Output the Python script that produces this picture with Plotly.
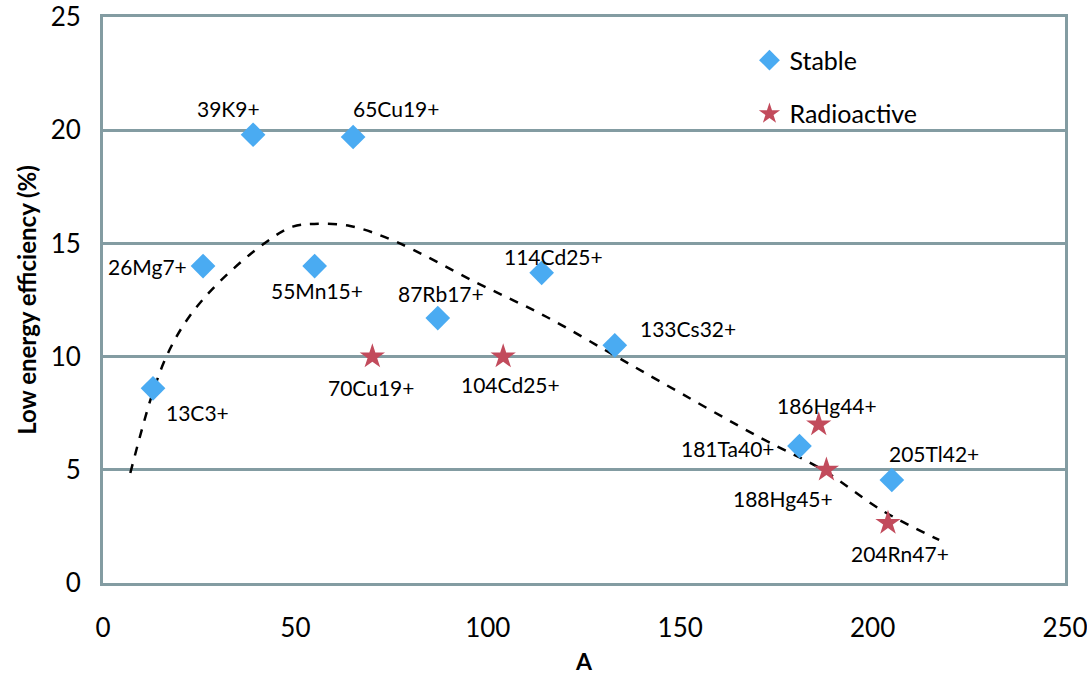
import plotly.graph_objects as go

# Stable isotopes
stable_A = [13, 26, 39, 55, 65, 87, 114, 133, 181, 205]
stable_eff = [8.6, 14.0, 19.8, 14.0, 19.7, 11.7, 13.7, 10.5, 6.05, 4.55]
stable_labels = ["13C3+", "26Mg7+", "39K9+", "55Mn15+", "65Cu19+", "87Rb17+",
                 "114Cd25+", "133Cs32+", "181Ta40+", "205Tl42+"]

# Radioactive isotopes
radio_A = [70, 104, 186, 188, 204]
radio_eff = [10.0, 10.0, 7.0, 5.0, 2.65]
radio_labels = ["70Cu19+", "104Cd25+", "186Hg44+", "188Hg45+", "204Rn47+"]

# Trend (dashed curve)
trend_A = [7.1, 13.1, 17.3, 22.4, 29.9, 41.9, 49.3, 54.9, 64.2, 76.2, 96.7,
           115.2, 132.0, 144.8, 171.0, 187.0, 202.5, 217.3]
trend_eff = [4.86, 8.5, 10.3, 11.76, 13.24, 15.0, 15.74, 15.86, 15.77, 15.07,
             13.3, 11.76, 10.14, 8.9, 6.4, 5.0, 3.2, 1.9]

x_ticks = [0, 50, 100, 150, 200, 250]
y_ticks = [0, 5, 10, 15, 20, 25]

# label placement: (xanchor, xshift, yshift)
stable_pos = {
    "13C3+": ("left", 11, -24),
    "26Mg7+": ("right", -14, 0),
    "39K9+": ("center", -25, 26),
    "55Mn15+": ("center", 2, -24),
    "65Cu19+": ("left", -2, 28),
    "87Rb17+": ("center", 3, 25),
    "114Cd25+": ("center", 12, 16),
    "133Cs32+": ("left", 23, 17),
    "181Ta40+": ("right", -22, -2),
    "205Tl42+": ("left", -5, 26),
}
radio_pos = {
    "70Cu19+": ("center", -1, -31),
    "104Cd25+": ("center", 7, -28),
    "186Hg44+": ("center", 8, 19),
    "188Hg45+": ("center", -43, -29),
    "204Rn47+": ("center", 12, -30),
}

FONT = "Lato, Calibri, Arial, sans-serif"
GRID = "#839CA2"

fig = go.Figure()

fig.add_trace(go.Scatter(
    x=trend_A, y=trend_eff, mode="lines",
    line=dict(color="black", width=2.5, dash="dash", shape="spline"),
    showlegend=False, hoverinfo="skip"))

fig.add_trace(go.Scatter(
    x=stable_A, y=stable_eff, mode="markers", name="Stable",
    legendgroup="s",
    marker=dict(symbol="diamond", size=19, color="#4AABF2"),
))
fig.add_trace(go.Scatter(
    x=radio_A, y=radio_eff, mode="markers", name="Radioactive",
    legendgroup="r",
    marker=dict(symbol="star", size=19, color="#C24B5C"),
))

annotations = []
for a, e, lab in zip(stable_A, stable_eff, stable_labels):
    xa, xs, ys = stable_pos[lab]
    annotations.append(dict(x=a, y=e, text=lab, showarrow=False, xanchor=xa,
                            yanchor="middle", xshift=xs, yshift=ys,
                            font=dict(family=FONT, size=21, color="black")))
for a, e, lab in zip(radio_A, radio_eff, radio_labels):
    xa, xs, ys = radio_pos[lab]
    annotations.append(dict(x=a, y=e, text=lab, showarrow=False, xanchor=xa,
                            yanchor="middle", xshift=xs, yshift=ys,
                            font=dict(family=FONT, size=21, color="black")))

fig.update_layout(
    width=1087, height=691,
    margin=dict(l=103, r=22, t=17, b=108),
    paper_bgcolor="white", plot_bgcolor="white",
    font=dict(family=FONT, color="black"),
    annotations=annotations,
    legend=dict(x=0.672, y=0.964, xanchor="left", yanchor="top",
                font=dict(family=FONT, size=25, color="black"),
                bgcolor="rgba(0,0,0,0)", tracegroupgap=18,
                itemwidth=30, traceorder="grouped"),
    xaxis=dict(range=[0, 250], tickvals=x_ticks, showgrid=False,
               zeroline=False, showline=True, mirror=True,
               linecolor=GRID, linewidth=3, ticks="",
               automargin=False, ticklabelstandoff=20,
               ticklabeloverflow="allow",
               tickfont=dict(family=FONT, size=26, color="black"),
               title=dict(text="<b>A</b>", font=dict(family=FONT, size=23),
                          standoff=12)),
    yaxis=dict(range=[0, 25], tickvals=y_ticks, showgrid=True,
               gridcolor=GRID, gridwidth=3, zeroline=False,
               showline=True, mirror=True, linecolor=GRID, linewidth=3,
               ticks="", automargin=False, ticklabelstandoff=14,
               ticklabeloverflow="allow",
               tickfont=dict(family=FONT, size=26, color="black"),
               title=dict(text="<b>Low energy efficiency (%)</b>",
                          font=dict(family=FONT, size=24), standoff=8)),
)

fig.write_html("out.html")
